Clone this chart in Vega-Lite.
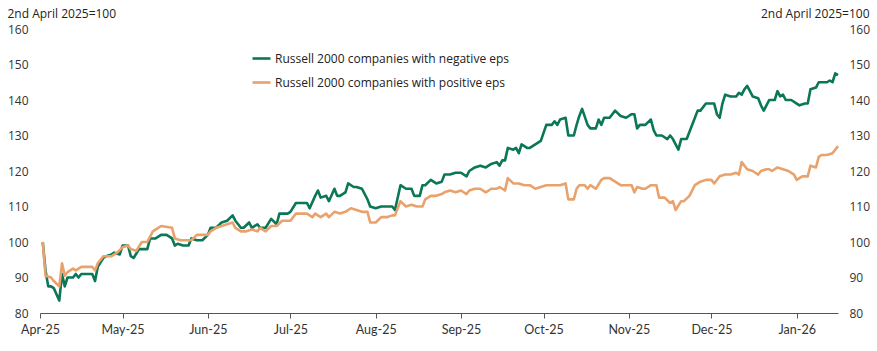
{
  "$schema": "https://vega.github.io/schema/vega-lite/v6.json",
  "autosize": "none",
  "width": 798,
  "height": 284,
  "padding": {"left": 40, "top": 29, "right": 39, "bottom": 38},
  "background": "white",
  "config": {"view": {"stroke": null}, "font": "Open Sans"},
  "datasets": {
    "neg": [
      {"date":"2025-04-02","value":100},{"date":"2025-04-03","value":92},{"date":"2025-04-04","value":87.5},{"date":"2025-04-05","value":87.5},{"date":"2025-04-06","value":87},{"date":"2025-04-08","value":83.5},{"date":"2025-04-09","value":91},{"date":"2025-04-10","value":87.5},{"date":"2025-04-11","value":90},{"date":"2025-04-13","value":90},{"date":"2025-04-14","value":91},{"date":"2025-04-15","value":90},{"date":"2025-04-16","value":91},{"date":"2025-04-18","value":91},{"date":"2025-04-20","value":91},{"date":"2025-04-21","value":89},{"date":"2025-04-22","value":93},{"date":"2025-04-24","value":95.5},{"date":"2025-04-25","value":96},{"date":"2025-04-27","value":96.5},{"date":"2025-04-28","value":97},{"date":"2025-04-30","value":96.5},
      {"date":"2025-05-01","value":99},{"date":"2025-05-03","value":99},{"date":"2025-05-04","value":96},{"date":"2025-05-05","value":95.5},{"date":"2025-05-07","value":98},{"date":"2025-05-09","value":98},{"date":"2025-05-10","value":98},{"date":"2025-05-11","value":101},{"date":"2025-05-12","value":101},{"date":"2025-05-13","value":101},{"date":"2025-05-15","value":102},{"date":"2025-05-17","value":102},{"date":"2025-05-19","value":101},{"date":"2025-05-20","value":99},{"date":"2025-05-21","value":99.5},{"date":"2025-05-23","value":99},{"date":"2025-05-25","value":99},{"date":"2025-05-26","value":101},{"date":"2025-05-28","value":100.5},{"date":"2025-05-30","value":100.5},
      {"date":"2025-06-01","value":102},{"date":"2025-06-02","value":104},{"date":"2025-06-04","value":104},{"date":"2025-06-06","value":105.5},{"date":"2025-06-08","value":106},{"date":"2025-06-10","value":107.5},{"date":"2025-06-11","value":106},{"date":"2025-06-13","value":104},{"date":"2025-06-14","value":104},{"date":"2025-06-16","value":105.5},{"date":"2025-06-17","value":104},{"date":"2025-06-19","value":105},{"date":"2025-06-20","value":104},{"date":"2025-06-22","value":104},{"date":"2025-06-24","value":106.5},{"date":"2025-06-26","value":105},{"date":"2025-06-27","value":108},{"date":"2025-06-30","value":108},
      {"date":"2025-07-01","value":108.5},{"date":"2025-07-03","value":111},{"date":"2025-07-05","value":111},{"date":"2025-07-07","value":111},{"date":"2025-07-08","value":109.5},{"date":"2025-07-10","value":113},{"date":"2025-07-11","value":114.5},{"date":"2025-07-12","value":112.5},{"date":"2025-07-14","value":113},{"date":"2025-07-15","value":111.5},{"date":"2025-07-17","value":115},{"date":"2025-07-18","value":113},{"date":"2025-07-19","value":113},{"date":"2025-07-21","value":114},{"date":"2025-07-22","value":116.5},{"date":"2025-07-24","value":115.5},{"date":"2025-07-25","value":115.5},{"date":"2025-07-27","value":115},{"date":"2025-07-29","value":112},{"date":"2025-07-30","value":110},
      {"date":"2025-08-01","value":109.5},{"date":"2025-08-03","value":110},{"date":"2025-08-05","value":110},{"date":"2025-08-07","value":110},{"date":"2025-08-08","value":109},{"date":"2025-08-10","value":116},{"date":"2025-08-12","value":115},{"date":"2025-08-14","value":115},{"date":"2025-08-15","value":113},{"date":"2025-08-17","value":113},{"date":"2025-08-18","value":116},{"date":"2025-08-19","value":116},{"date":"2025-08-21","value":117.5},{"date":"2025-08-23","value":116.5},{"date":"2025-08-25","value":117},{"date":"2025-08-26","value":119},{"date":"2025-08-28","value":119},{"date":"2025-08-30","value":119.5},
      {"date":"2025-09-01","value":119.5},{"date":"2025-09-03","value":118.5},{"date":"2025-09-04","value":120},{"date":"2025-09-06","value":121},{"date":"2025-09-08","value":121.5},{"date":"2025-09-10","value":121},{"date":"2025-09-12","value":122},{"date":"2025-09-14","value":122.5},{"date":"2025-09-15","value":121.5},{"date":"2025-09-16","value":123},{"date":"2025-09-17","value":123},{"date":"2025-09-18","value":126.5},{"date":"2025-09-20","value":126},{"date":"2025-09-21","value":126.5},{"date":"2025-09-22","value":125},{"date":"2025-09-23","value":127.5},{"date":"2025-09-25","value":126.5},{"date":"2025-09-26","value":126.5},{"date":"2025-09-28","value":127.5},{"date":"2025-09-30","value":128.5},
      {"date":"2025-10-02","value":133},{"date":"2025-10-04","value":133},{"date":"2025-10-05","value":134},{"date":"2025-10-06","value":133},{"date":"2025-10-07","value":134.5},{"date":"2025-10-09","value":135},{"date":"2025-10-10","value":130},{"date":"2025-10-12","value":130},{"date":"2025-10-13","value":133},{"date":"2025-10-14","value":135.5},{"date":"2025-10-15","value":137.5},{"date":"2025-10-17","value":133},{"date":"2025-10-18","value":132},{"date":"2025-10-20","value":132},{"date":"2025-10-21","value":134.5},{"date":"2025-10-22","value":133},{"date":"2025-10-23","value":135},{"date":"2025-10-25","value":135},{"date":"2025-10-27","value":137},{"date":"2025-10-29","value":135.5},{"date":"2025-10-31","value":135},
      {"date":"2025-11-02","value":136},{"date":"2025-11-03","value":136},{"date":"2025-11-04","value":132},{"date":"2025-11-05","value":133},{"date":"2025-11-07","value":133},{"date":"2025-11-09","value":134.5},{"date":"2025-11-10","value":131.5},{"date":"2025-11-11","value":130},{"date":"2025-11-13","value":130},{"date":"2025-11-15","value":129},{"date":"2025-11-16","value":130},{"date":"2025-11-17","value":129},{"date":"2025-11-19","value":126},{"date":"2025-11-20","value":129},{"date":"2025-11-22","value":129},{"date":"2025-11-23","value":131},{"date":"2025-11-25","value":135},{"date":"2025-11-26","value":137},{"date":"2025-11-27","value":137},{"date":"2025-11-29","value":139},{"date":"2025-11-30","value":139},
      {"date":"2025-12-02","value":139},{"date":"2025-12-03","value":136},{"date":"2025-12-04","value":135},{"date":"2025-12-05","value":139},{"date":"2025-12-06","value":141.5},{"date":"2025-12-08","value":141},{"date":"2025-12-10","value":141},{"date":"2025-12-11","value":142},{"date":"2025-12-12","value":141.5},{"date":"2025-12-13","value":143},{"date":"2025-12-14","value":144},{"date":"2025-12-16","value":141},{"date":"2025-12-18","value":140.5},{"date":"2025-12-19","value":138.5},{"date":"2025-12-20","value":137},{"date":"2025-12-21","value":138.5},{"date":"2025-12-22","value":140},{"date":"2025-12-24","value":140},{"date":"2025-12-25","value":142.5},{"date":"2025-12-26","value":141},{"date":"2025-12-27","value":141.5},{"date":"2025-12-28","value":140},{"date":"2025-12-30","value":140},
      {"date":"2026-01-01","value":139},{"date":"2026-01-02","value":138.5},{"date":"2026-01-04","value":139},{"date":"2026-01-05","value":139},{"date":"2026-01-06","value":143},{"date":"2026-01-08","value":143.5},{"date":"2026-01-09","value":145},{"date":"2026-01-12","value":145},{"date":"2026-01-13","value":145.5},{"date":"2026-01-14","value":145},{"date":"2026-01-15","value":147.5},{"date":"2026-01-16","value":147}
    ],
    "pos": [
      {"date":"2025-04-02","value":100},{"date":"2025-04-03","value":90.5},{"date":"2025-04-05","value":90},{"date":"2025-04-06","value":89},{"date":"2025-04-08","value":87.5},{"date":"2025-04-09","value":94},{"date":"2025-04-10","value":90.5},{"date":"2025-04-11","value":91.5},{"date":"2025-04-13","value":92.5},{"date":"2025-04-14","value":92},{"date":"2025-04-16","value":93},{"date":"2025-04-18","value":93},{"date":"2025-04-20","value":93},{"date":"2025-04-21","value":92},{"date":"2025-04-22","value":94},{"date":"2025-04-24","value":96},{"date":"2025-04-27","value":96},{"date":"2025-04-29","value":97},
      {"date":"2025-05-01","value":98.5},{"date":"2025-05-03","value":99},{"date":"2025-05-04","value":98},{"date":"2025-05-06","value":97.5},{"date":"2025-05-08","value":100},{"date":"2025-05-10","value":100},{"date":"2025-05-12","value":103},{"date":"2025-05-13","value":103.5},{"date":"2025-05-15","value":104.5},{"date":"2025-05-19","value":104},{"date":"2025-05-20","value":101},{"date":"2025-05-22","value":100.5},{"date":"2025-05-26","value":100.5},{"date":"2025-05-28","value":102},{"date":"2025-05-30","value":102},
      {"date":"2025-06-01","value":102},{"date":"2025-06-02","value":103},{"date":"2025-06-04","value":104},{"date":"2025-06-08","value":105},{"date":"2025-06-10","value":105.5},{"date":"2025-06-11","value":104},{"date":"2025-06-13","value":103},{"date":"2025-06-15","value":103},{"date":"2025-06-17","value":103.5},{"date":"2025-06-19","value":103},{"date":"2025-06-20","value":104},{"date":"2025-06-22","value":103},{"date":"2025-06-24","value":104.5},{"date":"2025-06-26","value":104.5},{"date":"2025-06-28","value":106},
      {"date":"2025-07-01","value":106},{"date":"2025-07-03","value":108},{"date":"2025-07-07","value":108},{"date":"2025-07-09","value":107},{"date":"2025-07-10","value":108},{"date":"2025-07-12","value":107},{"date":"2025-07-14","value":108},{"date":"2025-07-15","value":107},{"date":"2025-07-17","value":108.5},{"date":"2025-07-19","value":108},{"date":"2025-07-21","value":108.5},{"date":"2025-07-23","value":109.5},{"date":"2025-07-25","value":109},{"date":"2025-07-27","value":108.5},{"date":"2025-07-29","value":108.5},{"date":"2025-07-30","value":105.5},
      {"date":"2025-08-01","value":105.5},{"date":"2025-08-03","value":107},{"date":"2025-08-05","value":107},{"date":"2025-08-07","value":107.5},{"date":"2025-08-08","value":107.5},{"date":"2025-08-10","value":111.5},{"date":"2025-08-12","value":110},{"date":"2025-08-14","value":110.5},{"date":"2025-08-16","value":110},{"date":"2025-08-18","value":110},{"date":"2025-08-19","value":112},{"date":"2025-08-21","value":113},{"date":"2025-08-23","value":113},{"date":"2025-08-25","value":113.5},{"date":"2025-08-26","value":114},{"date":"2025-08-28","value":114.5},{"date":"2025-08-30","value":114},
      {"date":"2025-09-01","value":114.5},{"date":"2025-09-03","value":113.5},{"date":"2025-09-04","value":114.5},{"date":"2025-09-06","value":115},{"date":"2025-09-08","value":115},{"date":"2025-09-10","value":114},{"date":"2025-09-12","value":115},{"date":"2025-09-14","value":115},{"date":"2025-09-15","value":115.5},{"date":"2025-09-17","value":114.5},{"date":"2025-09-18","value":118},{"date":"2025-09-20","value":116.5},{"date":"2025-09-22","value":116.5},{"date":"2025-09-24","value":116},{"date":"2025-09-26","value":116},{"date":"2025-09-28","value":115},{"date":"2025-09-30","value":115.5},
      {"date":"2025-10-02","value":116},{"date":"2025-10-04","value":116},{"date":"2025-10-05","value":116},{"date":"2025-10-07","value":116},{"date":"2025-10-09","value":116.5},{"date":"2025-10-10","value":112},{"date":"2025-10-12","value":112},{"date":"2025-10-13","value":115},{"date":"2025-10-14","value":116},{"date":"2025-10-16","value":116},{"date":"2025-10-17","value":115},{"date":"2025-10-18","value":116},{"date":"2025-10-20","value":115},{"date":"2025-10-22","value":117.5},{"date":"2025-10-23","value":118},{"date":"2025-10-25","value":118},{"date":"2025-10-27","value":117},{"date":"2025-10-29","value":116},{"date":"2025-10-31","value":116},
      {"date":"2025-11-02","value":116},{"date":"2025-11-03","value":114},{"date":"2025-11-04","value":115.5},{"date":"2025-11-06","value":115},{"date":"2025-11-07","value":115},{"date":"2025-11-09","value":116},{"date":"2025-11-11","value":116},{"date":"2025-11-12","value":112.5},{"date":"2025-11-14","value":112.5},{"date":"2025-11-16","value":111},{"date":"2025-11-17","value":111.5},{"date":"2025-11-18","value":109},{"date":"2025-11-20","value":111.5},{"date":"2025-11-21","value":111.5},{"date":"2025-11-23","value":113},{"date":"2025-11-25","value":116},{"date":"2025-11-27","value":117},{"date":"2025-11-29","value":117.5},
      {"date":"2025-12-01","value":117.5},{"date":"2025-12-02","value":116.5},{"date":"2025-12-04","value":118.5},{"date":"2025-12-06","value":119},{"date":"2025-12-08","value":119},{"date":"2025-12-10","value":119.5},{"date":"2025-12-11","value":119},{"date":"2025-12-12","value":122.5},{"date":"2025-12-14","value":120.5},{"date":"2025-12-16","value":120},{"date":"2025-12-18","value":119},{"date":"2025-12-19","value":120},{"date":"2025-12-21","value":120.5},{"date":"2025-12-22","value":120.5},{"date":"2025-12-23","value":120},{"date":"2025-12-25","value":121},{"date":"2025-12-27","value":120.5},{"date":"2025-12-29","value":120},{"date":"2025-12-31","value":119},
      {"date":"2026-01-01","value":117.5},{"date":"2026-01-03","value":118.5},{"date":"2026-01-05","value":118.5},{"date":"2026-01-06","value":121.5},{"date":"2026-01-08","value":121},{"date":"2026-01-09","value":124},{"date":"2026-01-10","value":124.5},{"date":"2026-01-12","value":124.5},{"date":"2026-01-14","value":125},{"date":"2026-01-16","value":127}
    ]
  },
  "encoding": {
    "x": {
      "field": "date", "type": "temporal",
      "scale": {"type": "utc", "domain": ["2025-04-01", "2026-01-16"]},
      "axis": {
        "title": null, "labelExpr": "utcFormat(datum.value, '%b-%y')",
        "tickCount": {"interval": "month", "step": 1},
        "grid": false, "domainColor": "#555555", "domainWidth": 1.2,
        "tickColor": "#555555", "tickSize": 5, "tickWidth": 1,
        "labelFont": "Lato", "labelFontSize": 12.5, "labelColor": "#333333",
        "labelPadding": 5, "labelFlush": false, "labelOverlap": false
      }
    }
  },
  "layer": [
    {
      "data": {"name": "neg"},
      "mark": {"type": "line", "strokeWidth": 2.6, "strokeJoin": "round"},
      "encoding": {
        "y": {
          "field": "value", "type": "quantitative",
          "scale": {"domain": [80, 160], "nice": false, "zero": false},
          "axis": {
            "title": "2nd April 2025=100", "titleAngle": 0, "titleAlign": "left", "titleBaseline": "middle",
            "titleX": -33, "titleY": -16, "titleFontSize": 12, "titleFontWeight": "normal", "titleColor": "#222222",
            "values": [80, 90, 100, 110, 120, 130, 140, 150, 160],
            "grid": false, "domain": false, "ticks": false, "labelPadding": 12,
            "labelFontSize": 12, "labelColor": "#333333"
          }
        },
        "color": {
          "datum": "Russell 2000 companies with negative eps",
          "type": "nominal",
          "scale": {
            "domain": ["Russell 2000 companies with negative eps", "Russell 2000 companies with positive eps"],
            "range": ["#0B7757", "#E9A26C"]
          },
          "legend": {
            "title": null, "orient": "none", "legendX": 211, "legendY": 19,
            "symbolType": "stroke", "symbolSize": 324, "symbolStrokeWidth": 2.6,
            "labelFontSize": 12, "labelColor": "#222222", "labelOffset": 3, "rowPadding": 7,
            "labelLimit": 400
          }
        }
      }
    },
    {
      "data": {"name": "pos"},
      "mark": {"type": "line", "strokeWidth": 2.6, "strokeJoin": "round"},
      "encoding": {
        "y": {"field": "value", "type": "quantitative", "scale": {"domain": [80, 160], "nice": false, "zero": false}, "axis": null},
        "color": {"datum": "Russell 2000 companies with positive eps", "type": "nominal"}
      }
    },
    {
      "data": {"name": "pos"},
      "mark": {"type": "line", "strokeOpacity": 0},
      "encoding": {
        "y": {
          "field": "value", "type": "quantitative",
          "scale": {"domain": [80, 160], "nice": false, "zero": false},
          "axis": {
            "orient": "right",
            "title": "2nd April 2025=100", "titleAngle": 0, "titleAlign": "right", "titleBaseline": "middle",
            "titleX": 31, "titleY": -16, "titleFontSize": 12, "titleFontWeight": "normal", "titleColor": "#222222",
            "values": [80, 90, 100, 110, 120, 130, 140, 150, 160],
            "grid": false, "domain": false, "ticks": false, "labelPadding": 11,
            "labelFontSize": 12, "labelColor": "#333333"
          }
        }
      }
    }
  ],
  "resolve": {"scale": {"y": "independent"}, "axis": {"y": "independent"}}
}
